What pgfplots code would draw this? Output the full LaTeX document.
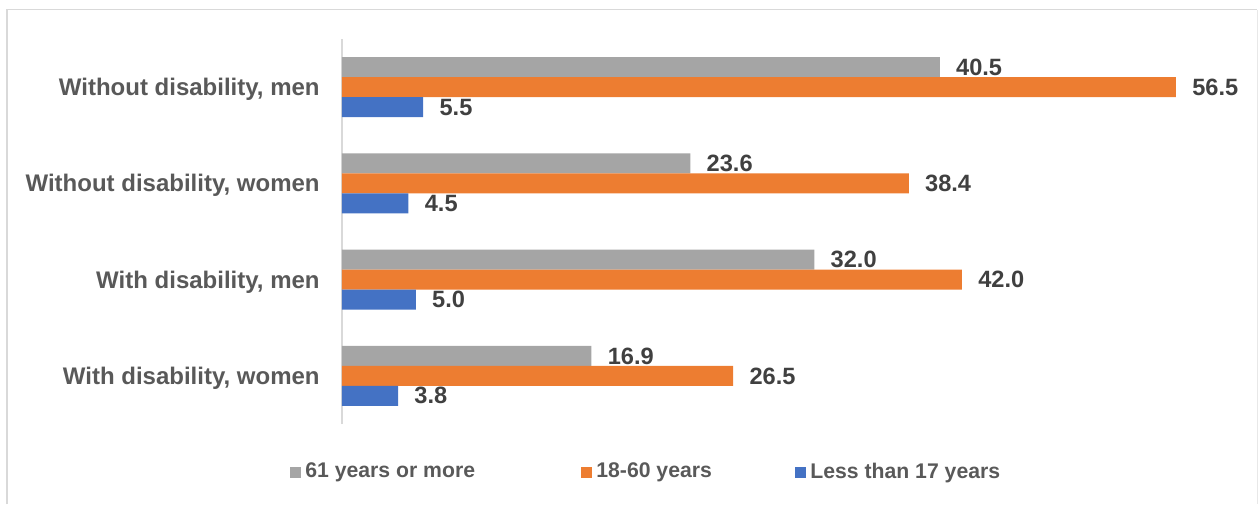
\documentclass[border=0pt]{standalone}
\usepackage{pgfplots}
\usepackage{pgfplotstable}
\pgfplotsset{compat=1.18}
\usepackage{fontspec}
\setmainfont{Liberation Sans}

\definecolor{barGray}{HTML}{A5A5A5}
\definecolor{barOrange}{HTML}{ED7D31}
\definecolor{barBlue}{HTML}{4472C4}
\definecolor{labelGray}{HTML}{595959}
\definecolor{valueGray}{HTML}{404040}
\definecolor{frameGray}{HTML}{D9D9D9}

% Share by age group, per population group (pos 3 = top row)
\pgfplotstableread{
pos older adult child
3   40.5  56.5  5.5
2   23.6  38.4  4.5
1   32.0  42.0  5.0
0   16.9  26.5  3.8
}\agedata

\newcommand{\catfont}{\fontsize{12}{14}\selectfont\bfseries}
\newcommand{\valuefont}{\fontsize{11.8}{14}\selectfont\bfseries}
\newcommand{\legendfont}{\fontsize{10.6}{12}\selectfont\bfseries}

\begin{document}
\begin{tikzpicture}
\useasboundingbox (0pt,0pt) rectangle (629pt,-252pt);
% chart frame
\draw[frameGray, line width=0.9pt] (3.5pt,-252pt) -- (3.5pt,-4.75pt) -- (628.6pt,-4.75pt);
\draw[frameGray!60, line width=0.6pt] (628.6pt,-4.75pt) -- (628.6pt,-252pt);

\begin{axis}[
  at={(171pt,-212pt)}, anchor=south west,
  scale only axis, width=442.8pt, height=192.5pt,
  xmin=0, xmax=60, ymin=-0.5, ymax=3.5,
  hide x axis,
  axis y line*=left,
  y axis line style={frameGray, line width=0.75pt, -},
  ytick={0,1,2,3},
  yticklabels={{With disability, women},{With disability, men},{Without disability, women},{Without disability, men}},
  major tick length=0pt,
  ytick style={draw=none},
  yticklabel style={font=\catfont, text=labelGray, inner sep=0pt, anchor=base east, xshift=-11pt, yshift=-4.3pt},
  xbar, bar width=10pt,
  clip=false,
  point meta=x,
  nodes near coords={\pgfmathprintnumber[fixed,fixed zerofill,precision=1,assume math mode=true]{\pgfplotspointmeta}},
  every node near coord/.append style={font=\valuefont, text=valueGray, inner sep=0pt, anchor=west, xshift=8pt},
  legend columns=3,
  legend image code/.code={\fill[#1] (0pt,-2.75pt) rectangle (5.5pt,2.75pt);},
  legend style={at={(axis description cs:-0.0587,-0.1247)}, anchor=west, draw=none, fill=none,
    font=\legendfont, text=labelGray, inner sep=0pt, column sep=0pt, nodes={inner sep=0pt}},
]
\addplot[fill=barGray, draw=none, bar shift=10pt] table[x=older, y=pos] \agedata;
\addlegendentry{\makebox[140pt][l]{\hspace{2pt}61 years or more}}
\addplot[fill=barOrange, draw=none, bar shift=0pt] table[x=adult, y=pos] \agedata;
\addlegendentry{\makebox[101.5pt][l]{\hspace{2pt}18-60 years}}
\addplot[fill=barBlue, draw=none, bar shift=-10pt] table[x=child, y=pos] \agedata;
\addlegendentry{\hspace{2pt}Less than 17 years}
\end{axis}
\end{tikzpicture}
\end{document}
